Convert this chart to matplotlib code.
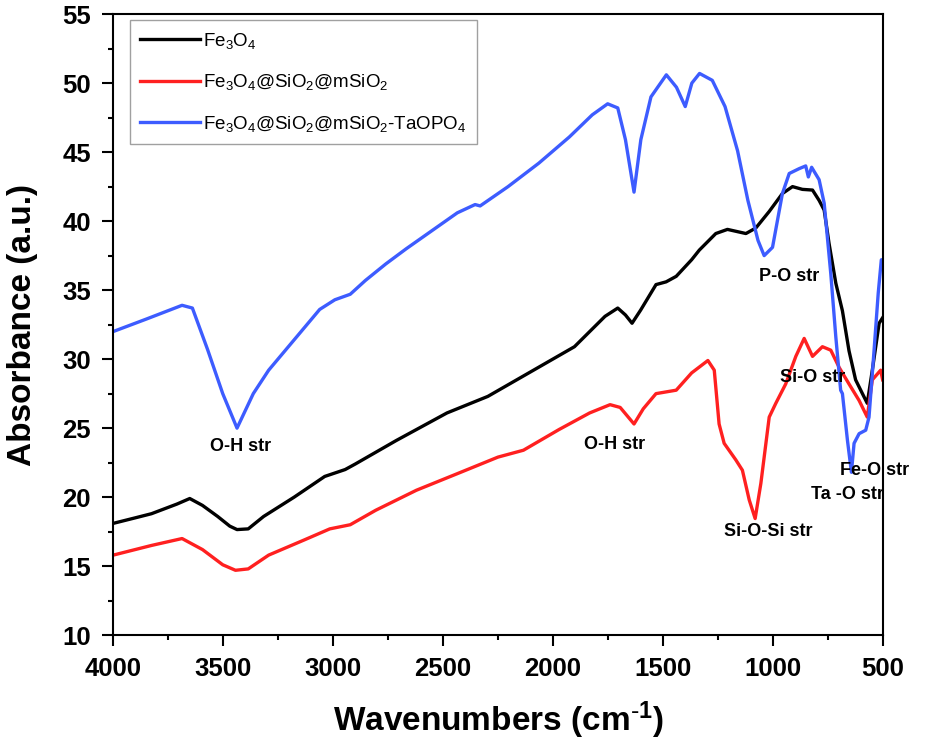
import matplotlib
matplotlib.use("Agg")
import matplotlib.pyplot as plt
from matplotlib.ticker import MultipleLocator

plt.rcParams['font.family'] = ['Liberation Sans', 'DejaVu Sans']
plt.rcParams['mathtext.default'] = 'regular'

# Fe3O4
wn_fe = [4000, 3900, 3826, 3710, 3652, 3594, 3525, 3470, 3437, 3386, 3316, 3177, 3038, 2945,
         2899, 2713, 2482, 2296, 2088, 1902, 1763, 1705, 1670, 1640, 1601, 1531, 1485, 1439,
         1369, 1334, 1259, 1206, 1122, 1077, 1016, 956, 910, 865, 819, 789, 766, 744, 713,
         683, 653, 623, 592, 570, 547, 516, 500]
abs_fe = [18.1, 18.5, 18.8, 19.5, 19.9, 19.4, 18.6, 17.9, 17.65, 17.7, 18.6, 20.0, 21.5, 22.0,
          22.4, 24.1, 26.1, 27.3, 29.2, 30.9, 33.1, 33.7, 33.2, 32.6, 33.55, 35.4, 35.6, 36.0,
          37.2, 37.9, 39.1, 39.4, 39.1, 39.5, 40.7, 42.0, 42.5, 42.3, 42.25, 41.5, 40.8, 38.4, 35.5,
          33.5, 30.6, 28.5, 27.5, 26.8, 29.2, 32.6, 33.0]

# Fe3O4@SiO2@mSiO2
wn_si = [4000, 3826, 3687, 3594, 3502, 3444, 3386, 3293, 3131, 3015, 2922, 2806, 2621, 2435,
         2250, 2134, 1972, 1833, 1740, 1694, 1631, 1589, 1531, 1439, 1369, 1295, 1266, 1244,
         1221, 1168, 1138, 1107, 1080, 1054, 1016, 986, 941, 895, 857, 819, 774, 736, 698,
         653, 607, 570, 547, 509, 500]
abs_si = [15.8, 16.5, 17.0, 16.2, 15.1, 14.7, 14.8, 15.8, 16.9, 17.7, 18.0, 19.05, 20.5, 21.7,
          22.9, 23.4, 24.9, 26.1, 26.7, 26.5, 25.3, 26.4, 27.5, 27.75, 29.0, 29.9, 29.2, 25.3,
          23.9, 22.7, 21.95, 19.8, 18.45, 21.0, 25.8, 26.8, 28.2, 30.2, 31.5, 30.2, 30.9, 30.65, 29.4,
          28.2, 27.0, 25.8, 28.5, 29.2, 28.5]

# Fe3O4@SiO2@mSiO2-TaOPO4
wn_ta = [4000, 3850, 3687, 3640, 3571, 3502, 3437, 3363, 3293, 3177, 3061, 2992, 2922, 2853,
         2760, 2667, 2435, 2354, 2331, 2204, 2064, 1925, 1821, 1751, 1705, 1670, 1631, 1600,
         1554, 1484, 1438, 1398, 1368, 1333, 1275, 1217, 1160, 1113, 1067, 1039, 1001, 956,
         925, 880, 850, 838, 823, 789, 766, 736, 713, 691, 683, 660, 642, 630, 607, 577, 562,
         539, 520, 506, 500]
abs_ta = [32.0, 32.9, 33.9, 33.7, 30.7, 27.5, 25.0, 27.5, 29.2, 31.4, 33.6, 34.3, 34.7, 35.7,
          36.9, 38.0, 40.6, 41.2, 41.1, 42.5, 44.2, 46.1, 47.7, 48.5, 48.2, 45.9, 42.1, 45.9,
          49.0, 50.6, 49.7, 48.3, 50.0, 50.7, 50.2, 48.3, 45.1, 41.5, 38.6, 37.5, 38.1, 42.0,
          43.45, 43.8, 44.0, 43.2, 43.9, 43.0, 41.3, 36.2, 31.6, 27.75, 27.5, 24.1, 21.8, 23.9, 24.6, 24.85, 25.8,
          30.65, 34.8, 37.2, 37.2]

labels = [r'Fe$_3$O$_4$', r'Fe$_3$O$_4$@SiO$_2$@mSiO$_2$', r'Fe$_3$O$_4$@SiO$_2$@mSiO$_2$-TaOPO$_4$']

peak_text = ['O-H str', 'O-H str', 'Si-O-Si str', 'P-O str', 'Si-O str', 'Ta -O str', 'Fe-O str']
peak_x = [3420, 1721, 1022, 926, 819, 662, 535]
peak_y = [23.7, 23.8, 17.5, 36.0, 28.7, 20.2, 21.9]

fig = plt.figure(figsize=(9.36, 7.42), dpi=100)
ax = fig.add_subplot(111)
fig.subplots_adjust(left=0.121, right=0.943, bottom=0.144, top=0.981)

ax.plot(wn_fe, abs_fe, color='black', lw=2.4, label=labels[0])
ax.plot(wn_si, abs_si, color='#ff2020', lw=2.4, label=labels[1])
ax.plot(wn_ta, abs_ta, color='#3d5cff', lw=2.4, label=labels[2])

for t, x, y in zip(peak_text, peak_x, peak_y):
    ax.text(x, y, t, fontsize=13, fontweight='bold', ha='center', va='center')

ax.set_xlim(4000, 500)
ax.set_ylim(10, 55)
ax.xaxis.set_major_locator(MultipleLocator(500))
ax.xaxis.set_minor_locator(MultipleLocator(250))
ax.yaxis.set_major_locator(MultipleLocator(5))
ax.yaxis.set_minor_locator(MultipleLocator(2.5))
ax.tick_params(which='major', length=8, width=1.5, direction='out', labelsize=18.5, pad=8)
ax.tick_params(which='minor', length=3.5, width=1.5, direction='out')
for lab in ax.get_xticklabels() + ax.get_yticklabels():
    lab.set_fontweight('bold')
for s in ax.spines.values():
    s.set_linewidth(1.5)

ax.set_xlabel(r'Wavenumbers (cm$^{\text{-}1}$)', fontsize=24, fontweight='bold')
ax.set_ylabel('Absorbance (a.u.)', fontsize=24, fontweight='bold')
ax.xaxis.set_label_coords(0.5, -0.103)
ax.yaxis.set_label_coords(-0.098, 0.5)

leg = ax.legend(loc='upper left', bbox_to_anchor=(0.022, 0.99), borderaxespad=0,
                fontsize=13.5, fancybox=False, edgecolor='#888888', handlelength=3.2,
                handletextpad=0.15, labelspacing=1.15, borderpad=0.55)
leg.get_frame().set_linewidth(1.0)

fig.savefig('out.png', dpi=100)
